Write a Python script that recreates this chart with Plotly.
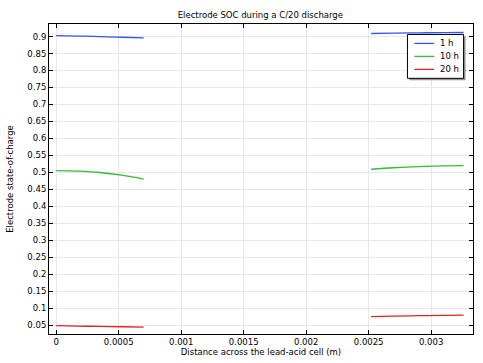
import plotly.graph_objects as go

# Positions across the cell (m): negative electrode region and positive electrode region
x_neg = [0.0, 0.000175, 0.00035, 0.000525, 0.0007]
x_pos = [0.00252, 0.0027, 0.0029, 0.0031, 0.00326]

soc_1h_neg = [0.903, 0.9015, 0.900, 0.898, 0.896]
soc_1h_pos = [0.909, 0.910, 0.911, 0.9115, 0.912]
soc_10h_neg = [0.505, 0.5035, 0.4995, 0.4915, 0.480]
soc_10h_pos = [0.509, 0.5135, 0.517, 0.519, 0.520]
soc_20h_neg = [0.048, 0.047, 0.046, 0.045, 0.044]
soc_20h_pos = [0.075, 0.0765, 0.0775, 0.0785, 0.079]

series_names = ["1 h", "10 h", "20 h"]
series_colors = ["rgb(55,85,240)", "rgb(50,190,50)", "rgb(225,35,35)"]

x_tickvals = [0, 0.0005, 0.001, 0.0015, 0.002, 0.0025, 0.003]
x_ticktext = ["0", "0.0005", "0.001", "0.0015", "0.002", "0.0025", "0.003"]
y_tickvals = [0.05, 0.1, 0.15, 0.2, 0.25, 0.3, 0.35, 0.4, 0.45, 0.5,
              0.55, 0.6, 0.65, 0.7, 0.75, 0.8, 0.85, 0.9]
y_ticktext = ["0.05", "0.1", "0.15", "0.2", "0.25", "0.3", "0.35", "0.4", "0.45", "0.5",
              "0.55", "0.6", "0.65", "0.7", "0.75", "0.8", "0.85", "0.9"]

pairs = [(soc_1h_neg, soc_1h_pos), (soc_10h_neg, soc_10h_pos), (soc_20h_neg, soc_20h_pos)]

W, H = 483, 363
ML, MR, MT, MB = 47, 9, 24, 28
PW, PH = W - ML - MR, H - MT - MB


def px(xp):
    return (xp - ML) / PW


def py(yp):
    return 1 - (yp - MT) / PH


FONT = "DejaVu Sans"
FS = 8.5
fig = go.Figure()
for name, color, (neg, pos) in zip(series_names, series_colors, pairs):
    for xs, ys in ((x_neg, neg), (x_pos, pos)):
        fig.add_trace(go.Scatter(
            x=xs, y=ys,
            mode="lines", name=name,
            line=dict(color=color, width=1.3, shape="spline", smoothing=1.0),
            showlegend=False,
        ))

# Manual legend box (with a soft shadow) like the reference
shapes = [
    dict(type="rect", xref="paper", yref="paper", x0=px(410), x1=px(466.5), y0=py(80.5), y1=py(36.5),
         line=dict(width=0), fillcolor="rgb(150,150,150)", layer="above"),
    dict(type="rect", xref="paper", yref="paper", x0=px(408), x1=px(464.5), y0=py(78.5), y1=py(34.5),
         line=dict(width=1, color="black"), fillcolor="white", layer="above"),
]
annotations = []
legend_rows = [43.5, 56.5, 69.5]
for name, color, yr in zip(series_names, series_colors, legend_rows):
    shapes.append(dict(type="line", xref="paper", yref="paper", x0=px(415), x1=px(435),
                       y0=py(yr), y1=py(yr), line=dict(color=color, width=1.3), layer="above"))
    annotations.append(dict(text=name, xref="paper", yref="paper", x=px(439), y=py(yr),
                            xanchor="left", yanchor="middle", showarrow=False,
                            font=dict(family=FONT, size=FS, color="black")))

axis_common = dict(
    showline=True, linecolor="black", linewidth=1, mirror="ticks",
    ticks="inside", ticklen=4, tickcolor="black",
    showgrid=True, gridcolor="rgb(232,232,232)", gridwidth=1,
    zeroline=False, tickfont=dict(family=FONT, size=FS, color="black"),
)

fig.update_layout(
    width=W, height=H,
    margin=dict(l=ML, r=MR, t=MT, b=MB),
    paper_bgcolor="white", plot_bgcolor="white",
    title=dict(text="Electrode SOC during a C/20 discharge", x=0.539, xanchor="center",
               y=1 - 15.5 / H, yanchor="middle",
               font=dict(family=FONT, size=FS, color="black")),
    xaxis=dict(range=[-0.0000578, 0.003335], tickvals=x_tickvals, ticktext=x_ticktext,
               title=dict(text="Distance across the lead-acid cell (m)", standoff=1,
                          font=dict(family=FONT, size=FS, color="black")),
               **axis_common),
    yaxis=dict(range=[0.0236, 0.937], tickvals=y_tickvals, ticktext=y_ticktext,
               title=dict(text="Electrode state-of-charge", standoff=12,
                          font=dict(family=FONT, size=FS, color="black")),
               **axis_common),
    shapes=shapes,
    annotations=annotations,
    showlegend=False,
)

fig.write_html("out.html", config={"displayModeBar": False},
               post_script="document.body.style.margin='0';")
